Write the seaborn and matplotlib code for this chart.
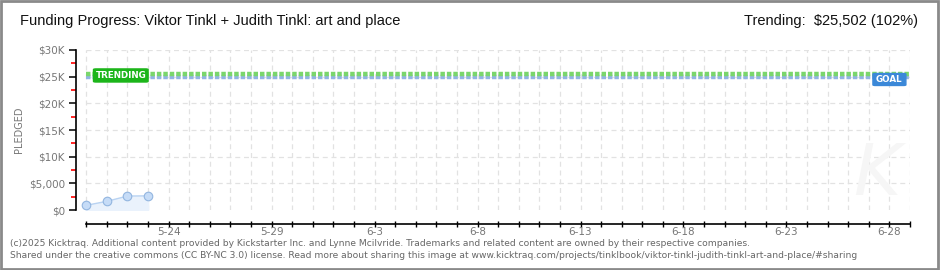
import matplotlib
matplotlib.use("Agg")
import matplotlib.pyplot as plt
import matplotlib.dates as mdates
from matplotlib.patches import Rectangle, FancyBboxPatch
from matplotlib.ticker import FixedLocator
import seaborn as sns
import pandas as pd
import numpy as np

# ---- data ----
dates = ["2025-05-20", "2025-05-21", "2025-05-22", "2025-05-23"]
pledged = [880, 1630, 2620, 2650]
goal = 25000
trending = 25502
range_start = "2025-05-20"
range_end = "2025-06-29"
tick_dates = ["2025-05-24", "2025-05-29", "2025-06-03", "2025-06-08",
              "2025-06-13", "2025-06-18", "2025-06-23", "2025-06-28"]
tick_labels = ["5-24", "5-29", "6-3", "6-8", "6-13", "6-18", "6-23", "6-28"]
y_ticks = [0, 5000, 10000, 15000, 20000, 25000, 30000]
y_labels = ["$0", "$5,000", "$10K", "$15K", "$20K", "$25K", "$30K"]
y_minor = [2500, 7500, 12500, 17500, 22500, 27500]
title = "Funding Progress: Viktor Tinkl + Judith Tinkl: art and place"
trend_text = "Trending:  $25,502 (102%)"
footer1 = ("(c)2025 Kicktraq. Additional content provided by Kickstarter Inc. and Lynne Mcilvride. "
           "Trademarks and related content are owned by their respective companies.")
footer2 = ("Shared under the creative commons (CC BY-NC 3.0) license. Read more about sharing this image at "
           "www.kicktraq.com/projects/tinklbook/viktor-tinkl-judith-tinkl-art-and-place/#sharing")

sns.set_theme(style="white")
plt.rcParams['font.family'] = ['DejaVu Sans']

df = pd.DataFrame({"date": pd.to_datetime(dates), "pledged": pledged})
full = pd.date_range(range_start, range_end, freq="D")
lines_df = pd.DataFrame({
    "date": list(full) * 2,
    "value": [goal] * len(full) + [trending] * len(full),
    "kind": ["goal"] * len(full) + ["trend"] * len(full),
})

fig = plt.figure(figsize=(9.4, 2.7), dpi=100)
ax = fig.add_axes([76 / 940, 60 / 270, (910 - 76) / 940, 160 / 270])

x0 = pd.Timestamp(range_start) - pd.Timedelta(hours=12)
x1 = pd.Timestamp(range_end)
ax.set_xlim(x0, x1)
ax.set_ylim(0, 30000)

# grid
for d in full:
    ax.axvline(d, color="#e2e2e2", lw=0.9, ls=(0, (4, 3)), zorder=0)
for yv in y_ticks[1:]:
    ax.plot([pd.Timestamp(range_start), x1], [yv, yv], color="#e2e2e2", lw=0.9,
            ls=(0, (4, 3)), zorder=0)

# goal / trending dotted lines
sns.lineplot(data=lines_df[lines_df.kind == "goal"], x="date", y="value", ax=ax,
             color="#92b4e4", lw=3.2, ls=(0, (1, 0.45)), zorder=2, legend=False)
sns.lineplot(data=lines_df[lines_df.kind == "trend"], x="date", y="value", ax=ax,
             color="#7ad66c", lw=3.2, ls=(0, (1, 0.45)), zorder=3, legend=False)

# pledged area + line + points
ax.fill_between(df["date"], df["pledged"], 0, color="#eaf2fc", zorder=3)
sns.lineplot(data=df, x="date", y="pledged", ax=ax, color="#b9d3f2", lw=1, zorder=4)
sns.scatterplot(data=df, x="date", y="pledged", ax=ax, s=38, color="#c6dcf7",
                edgecolor="#93b6e0", linewidth=0.8, zorder=5)

# badges
d20 = mdates.date2num(pd.Timestamp("2025-05-20"))
tb = FancyBboxPatch((d20 + 0.35, 24000), 2.65, 2450,
                    boxstyle="round,pad=0,rounding_size=0.12", fc="#1cb51a", ec="#1cb51a",
                    zorder=6, mutation_aspect=1000)
ax.add_patch(tb)
ax.text(d20 + 0.45, 25300, "TRENDING", color="white",
        fontsize=6.3, fontweight="bold", va="center", ha="left", zorder=7)
d27 = mdates.date2num(pd.Timestamp("2025-06-27"))
gb = FancyBboxPatch((d27 + 0.2, 23350), 1.6, 2250,
                    boxstyle="round,pad=0,rounding_size=0.12", fc="#3b88d8", ec="#3b88d8",
                    zorder=6, mutation_aspect=1000)
ax.add_patch(gb)
ax.text(d27 + 0.33, 24450, "GOAL", color="white",
        fontsize=6.3, fontweight="bold", va="center", ha="left", zorder=7)

# axes styling
for s in ["top", "right"]:
    ax.spines[s].set_visible(False)
ax.spines["left"].set_color("black")
ax.spines["left"].set_linewidth(1.2)
ax.spines["bottom"].set_color("black")
ax.spines["bottom"].set_linewidth(1.2)
ax.spines["bottom"].set_position(("outward", 10))
ax.spines["bottom"].set_bounds(d20, mdates.date2num(x1))

ax.yaxis.set_major_locator(FixedLocator(y_ticks))
ax.set_yticklabels(y_labels)
ax.yaxis.set_minor_locator(FixedLocator(y_minor))
ax.tick_params(axis="y", which="major", direction="out", length=5, width=1.1, color="black",
               labelsize=7.5, labelcolor="#777777", pad=3, left=True)
ax.tick_params(axis="y", which="minor", direction="out", length=3.5, width=1.2, color="#ff0000", left=True)

ax.xaxis.set_major_locator(FixedLocator(mdates.date2num(pd.to_datetime(tick_dates))))
ax.set_xticklabels(tick_labels)
ax.xaxis.set_minor_locator(FixedLocator(mdates.date2num(full)))
ax.tick_params(axis="x", which="both", direction="inout", length=5, width=1, color="black",
               labelsize=7.5, labelcolor="#777777", pad=0, bottom=True)
ax.set_xlabel("")
ax.set_ylabel("PLEDGED", fontsize=7, color="#777777")
ax.yaxis.set_label_coords(-52 / 834, 0.5)

# watermark K
ax.text(mdates.date2num(pd.Timestamp("2025-06-27")) + 0.4, 6500, "K", fontsize=52, color="#f6f6f6",
        ha="center", va="center", style="italic", zorder=1)

# texts
fig.text(20 / 940, 1 - 21 / 270, title, fontsize=10.5, color="#111111", va="center", ha="left",
         family=["Liberation Sans", "DejaVu Sans"])
fig.text(918 / 940, 1 - 21 / 270, trend_text, fontsize=10.5, color="#111111", va="center", ha="right",
         family=["Liberation Sans", "DejaVu Sans"])
fig.text(10 / 940, 1 - 243 / 270, footer1, fontsize=6.6, color="#666666", va="center", ha="left")
fig.text(10 / 940, 1 - 256 / 270, footer2, fontsize=6.6, color="#666666", va="center", ha="left")

# frame
fig.patches.append(Rectangle((0.001, 0.002), 0.997, 0.995, transform=fig.transFigure,
                             fill=False, ec="#8a8a8a", lw=2))

fig.savefig("out.png", dpi=100)
